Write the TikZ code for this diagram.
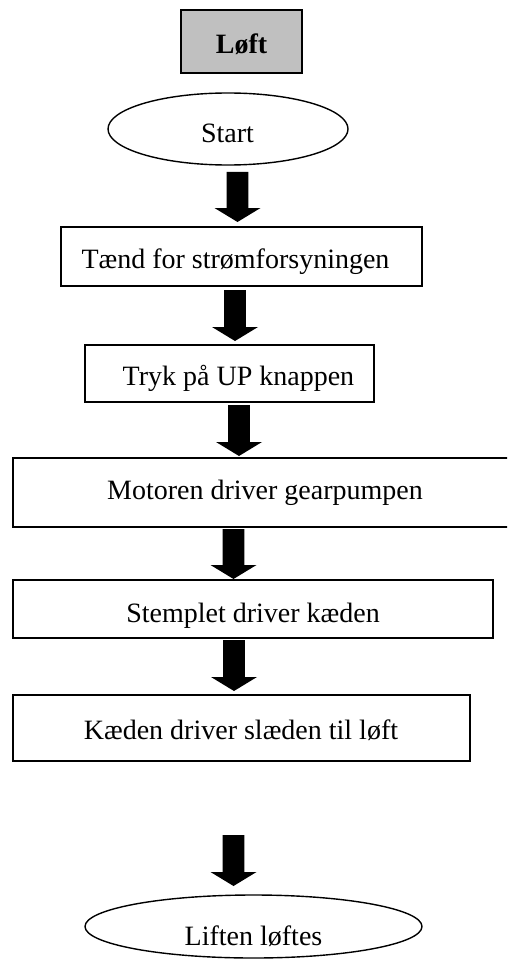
\documentclass[tikz,border=0pt]{standalone}
\usepackage{fontspec}
\setmainfont{Liberation Serif}
\usetikzlibrary{calc,shapes.geometric}
\tikzset{
  boxnode/.style={draw=black, line width=1.8pt, rectangle, inner sep=0pt, outer sep=0pt},
  ovalnode/.style={draw=black, line width=1.4pt, ellipse, inner sep=0pt, outer sep=0pt},
  txt/.style={anchor=base, inner sep=0pt, font=\fontsize{28}{34}\selectfont},
}
\newcommand\blockarrow[2]{%
  \fill[black] let \p1=(#1), \p2=(#2) in
    (\x1-10.8pt,\y1) -- (\x1+10.8pt,\y1) -- (\x1+10.8pt,\y2+14pt) -- (\x1+23pt,\y2+14pt)
    -- (\x1,\y2) -- (\x1-23pt,\y2+14pt) -- (\x1-10.8pt,\y2+14pt) -- cycle;}
\begin{document}
\begin{tikzpicture}[x=1pt,y=-1pt]
\clip (0,0) rectangle (507,960);
\fill[white] (0,0) rectangle (507,960);
% shapes
\node[boxnode, fill={rgb,255:red,192;green,192;blue,192}, minimum width=121pt, minimum height=63pt] (loft) at (241.5,41.5) {};
\node[ovalnode, minimum width=240pt, minimum height=72pt] (start) at (228,129) {};
\node[boxnode, minimum width=361pt, minimum height=59pt] (b2) at (241.5,256.5) {};
\node[boxnode, minimum width=289pt, minimum height=57pt] (b3) at (229.5,373.5) {};
\node[boxnode, minimum width=505pt, minimum height=69pt] (b4) at (265.5,492.5) {};
\node[boxnode, minimum width=480pt, minimum height=58pt] (b5) at (253,609) {};
\node[boxnode, minimum width=457pt, minimum height=66pt] (b6) at (241.5,728) {};
\node[ovalnode, minimum width=337pt, minimum height=63pt] (stop) at (253.5,926.5) {};
% texts
\node[txt, font=\fontsize{28}{34}\selectfont\bfseries] (tloft) at (241.5,53.3) {Løft};
\node[txt] (tstart) at (227.5,142.7) {Start};
\node[txt] (tb2) at (235.5,268) {Tænd for strømforsyningen};
\node[txt] (tb3) at (238.5,385) {Tryk på UP knappen};
\node[txt] (tb4) at (265,499) {Motoren driver gearpumpen};
\node[txt] (tb5) at (253,622) {Stemplet driver kæden};
\node[txt] (tb6) at (241,739) {Kæden driver slæden til løft};
\node[txt] (tstop) at (253.5,945) {Liften løftes};
% arrows
\coordinate (a1s) at (237.5,172); \coordinate (a1e) at (237.5,222);
\coordinate (a2s) at (235,290);   \coordinate (a2e) at (235,341);
\coordinate (a3s) at (239,405);   \coordinate (a3e) at (239,456);
\coordinate (a4s) at (233.5,529); \coordinate (a4e) at (233.5,579);
\coordinate (a5s) at (234,640);   \coordinate (a5e) at (234,691);
\coordinate (a6s) at (233.5,835); \coordinate (a6e) at (233.5,886);
\blockarrow{a1s}{a1e}
\blockarrow{a2s}{a2e}
\blockarrow{a3s}{a3e}
\blockarrow{a4s}{a4e}
\blockarrow{a5s}{a5e}
\blockarrow{a6s}{a6e}
\end{tikzpicture}
\end{document}
